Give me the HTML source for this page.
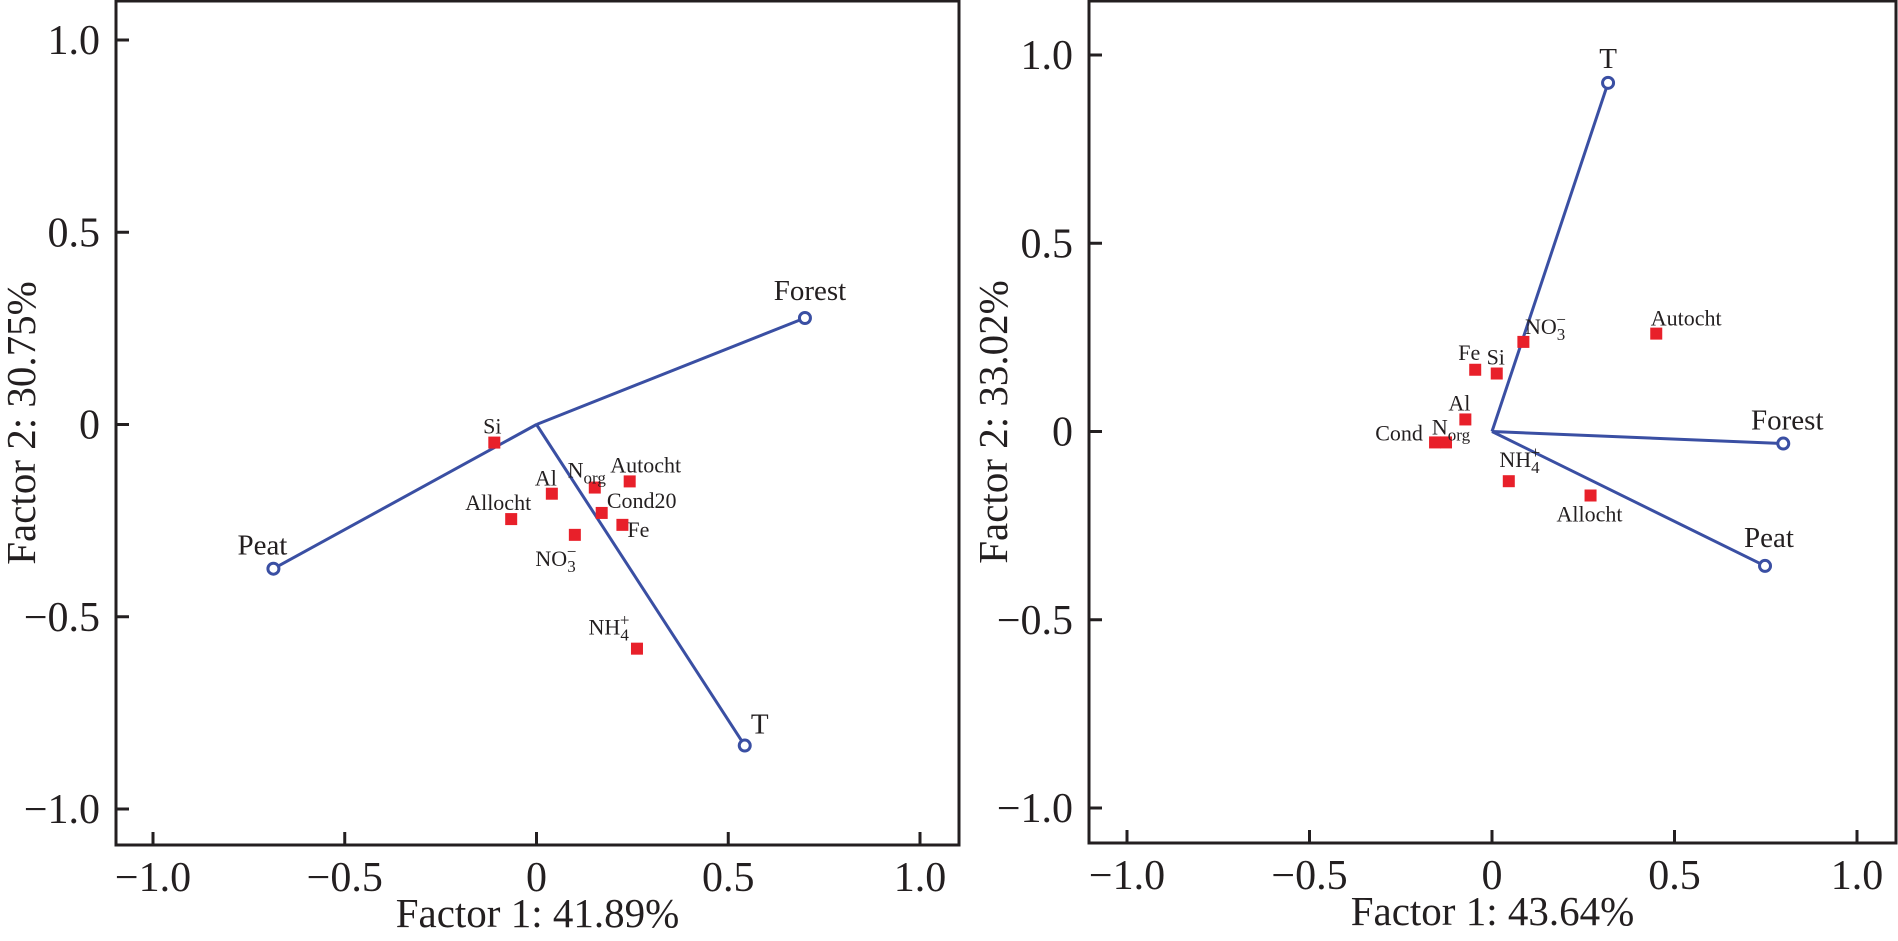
<!DOCTYPE html>
<html><head><meta charset="utf-8"><style>
html,body{margin:0;padding:0;background:#fff;}
svg{display:block;font-family:"Liberation Serif",serif;}
</style></head><body>
<svg id="chart" width="1898" height="941" viewBox="0 0 1898 941"></svg>
<script>
// Left panel data
const leftVecNames = ["Forest","Peat","T"];
const leftVecX = [0.70,-0.686,0.543];
const leftVecY = [0.277,-0.375,-0.835];
const leftPtNames = ["Si","Al","Allocht","Norg","Autocht","Cond20","Fe","NO3","NH4"];
const leftPtX = [-0.11,0.04,-0.066,0.152,0.243,0.17,0.224,0.10,0.262];
const leftPtY = [-0.047,-0.18,-0.246,-0.164,-0.148,-0.23,-0.261,-0.287,-0.583];
// Right panel data
const rightVecNames = ["T","Forest","Peat"];
const rightVecX = [0.318,0.798,0.748];
const rightVecY = [0.926,-0.032,-0.357];
const rightPtNames = ["Autocht","NO3","Fe","Si","Al","Cond","Norg","NH4","Allocht"];
const rightPtX = [0.45,0.086,-0.046,0.013,-0.073,-0.156,-0.126,0.046,0.27];
const rightPtY = [0.26,0.238,0.164,0.154,0.032,-0.029,-0.029,-0.132,-0.17];
const tickValues = [-1,-0.5,0,0.5,1];
const tickLabels = ["\u22121.0","\u22120.5","0","0.5","1.0"];
const leftXTitle = "Factor 1: 41.89%", leftYTitle = "Factor 2: 30.75%";
const rightXTitle = "Factor 1: 43.64%", rightYTitle = "Factor 2: 33.02%";

// label offsets (styling)
const leftVecOff = [[5,-28],[-11,-24],[15,-22]];
const leftPtOff = [[-2,-17],[-6,-16],[-13,-17],[-8,-18],[16,-17],[40,-13],[16,4],[-19,23],[-28,-22]];
const rightVecOff = [[0,-25],[4,-24],[4,-29]];
const rightPtOff = [[30,-16],[22,-16],[-6,-18],[-1,-17],[-6,-17],[-36,-10],[5,-16],[11,-22],[-1,18]];

const NS="http://www.w3.org/2000/svg";
const svg=document.getElementById('chart');
function mk(tag,attrs,parent){const e=document.createElementNS(NS,tag);for(const k in attrs)e.setAttribute(k,attrs[k]);(parent||svg).appendChild(e);return e;}

function labelHTML(n){
  if(n==="Norg") return 'N<tspan dy="6" font-size="17">org</tspan>';
  if(n==="NO3") return 'NO<tspan dy="6" font-size="17">3</tspan><tspan dx="-9" dy="-15" font-size="17">\u2212</tspan>';
  if(n==="NH4") return 'NH<tspan dy="6" font-size="17">4</tspan><tspan dx="-9" dy="-15" font-size="17">+</tspan>';
  return n;
}

function panel(cfg){
  const g=mk('g',{});
  
  
  const sx=v=>cfg.x0+v*cfg.kx, sy=v=>cfg.y0-v*cfg.ky;
  const fr=mk('rect',{x:cfg.L,y:cfg.T,width:cfg.R-cfg.L,height:cfg.B-cfg.T,fill:'none',stroke:'#231f20','stroke-width':3},g);
  
  
  tickValues.forEach((v,i)=>{
    const t1=mk('line',{x1:sx(v),x2:sx(v),y1:cfg.B,y2:cfg.B-13,stroke:'#231f20','stroke-width':3},g);
    
    
    const l1=mk('text',{x:sx(v),y:cfg.B+46,'text-anchor':'middle','font-size':42,fill:'#231f20'},g);
    l1.textContent=tickLabels[i];
    
    
    const t2=mk('line',{x1:cfg.L,x2:cfg.L+13,y1:sy(v),y2:sy(v),stroke:'#231f20','stroke-width':3},g);
    
    
    const l2=mk('text',{x:cfg.L-16,y:sy(v)+14,'text-anchor':'end','font-size':42,fill:'#231f20'},g);
    l2.textContent=tickLabels[i];
    
    
  });
  const xt=mk('text',{x:(cfg.L+cfg.R)/2,y:cfg.B+82,'text-anchor':'middle','font-size':41,fill:'#231f20'},g);
  xt.textContent=cfg.xTitle;
  
  
  const yt=mk('text',{x:0,y:0,'text-anchor':'middle','font-size':41,fill:'#231f20',transform:`translate(${cfg.yTitleX},${(cfg.T+cfg.B)/2}) rotate(-90)`},g);
  yt.textContent=cfg.yTitle;
  
  
  cfg.vn.forEach((n,i)=>{
    const x=sx(cfg.vx[i]),y=sy(cfg.vy[i]);
    const ln=mk('line',{x1:sx(0),y1:sy(0),x2:x,y2:y,stroke:'#3a4fa3','stroke-width':3},g);
    
    
    const c=mk('circle',{cx:x,cy:y,r:5.5,fill:'#fff',stroke:'#3a4fa3','stroke-width':3},g);
    
    
    const t=mk('text',{x:x+cfg.vo[i][0],y:y+cfg.vo[i][1]+10,'text-anchor':'middle','font-size':29,fill:'#231f20'},g);
    t.textContent=n;
    
    
  });
  cfg.pn.forEach((n,i)=>{
    const x=sx(cfg.px[i]),y=sy(cfg.py[i]);
    const r=mk('rect',{x:x-6,y:y-6,width:12,height:12,fill:'#e8202a'},g);
    
    
    const t=mk('text',{x:x+cfg.po[i][0],y:y+cfg.po[i][1]+8,'text-anchor':'middle','font-size':22,fill:'#231f20'},g);
    t.innerHTML=labelHTML(n);
    
    
  });
}
panel({name:'left-biplot',L:116,R:959,T:1,B:845,x0:536.5,kx:383.5,y0:424.5,ky:384.5,
  xTitle:leftXTitle,yTitle:leftYTitle,yTitleX:35,
  vn:leftVecNames,vx:leftVecX,vy:leftVecY,vo:leftVecOff,
  pn:leftPtNames,px:leftPtX,py:leftPtY,po:leftPtOff});
panel({name:'right-biplot',L:1089,R:1896,T:1,B:843,x0:1492,kx:365,y0:431.5,ky:376.5,
  xTitle:rightXTitle,yTitle:rightYTitle,yTitleX:1007,
  vn:rightVecNames,vx:rightVecX,vy:rightVecY,vo:rightVecOff,
  pn:rightPtNames,px:rightPtX,py:rightPtY,po:rightPtOff});
</script>
</body></html>
